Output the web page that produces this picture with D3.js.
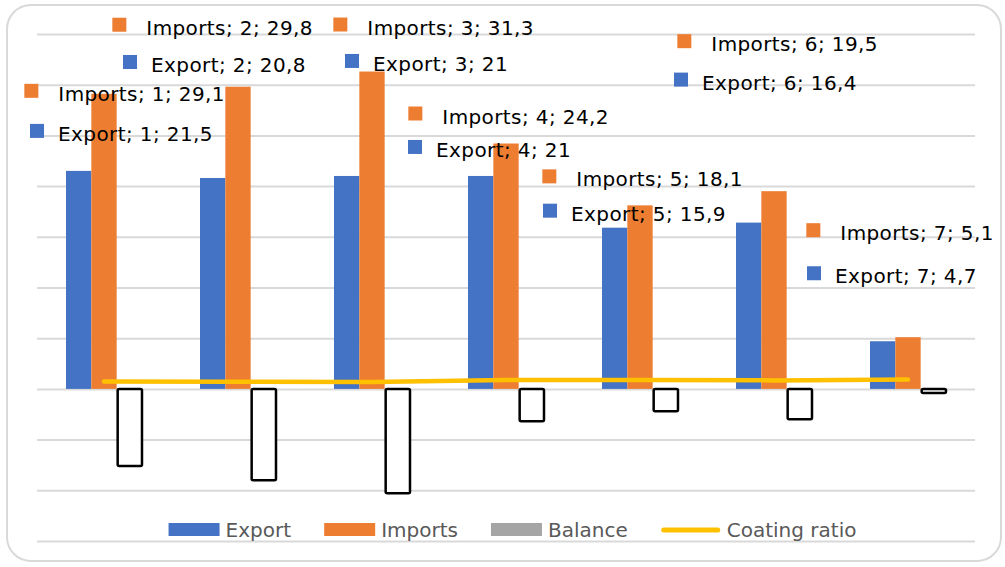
<!DOCTYPE html>
<html>
<head>
<meta charset="utf-8">
<script src="https://cdn.jsdelivr.net/npm/d3@7"></script>
<style>
  html, body { margin: 0; padding: 0; background: #fff; }
  svg { display: block; font-family: "DejaVu Sans", sans-serif; }
</style>
</head>
<body>
<svg id="chart" width="1005" height="567"></svg>
<script>
// values
const categories = ['1', '2', '3', '4', '5', '6', '7'];
const exportValues = [21.5, 20.8, 21, 21, 15.9, 16.4, 4.7];
const importValues = [29.1, 29.8, 31.3, 24.2, 18.1, 19.5, 5.1];
const balanceValues = [-7.6, -9.0, -10.3, -3.2, -2.2, -3.0, -0.4];
const coatingRatio = [0.74, 0.70, 0.67, 0.87, 0.88, 0.84, 0.92];
const gridTicks = [-15, -10, -5, 0, 5, 10, 15, 20, 25, 30, 35];
const seriesNames = ['Export', 'Imports', 'Balance'];
const legendNames = ['Export', 'Imports', 'Balance', 'Coating ratio'];

// hand-placed data labels, offset [dx, dy] from the top-left of their bar
const exportLabelOffset = [[-8, -30], [-49, -106], [39, -105], [-32, -19], [-31, -7], [-34, -133], [-35, -58]];
const importLabelOffset = [[-33, 7], [-79, -52], [8, -37], [-51, -20], [-51, -19], [-50, -140], [-55, -97]];

const colors = {
    Export: '#4472C4',
    Imports: '#ED7D31',
    Balance: '#A5A5A5',
    ratio: '#FFC000',
    grid: '#D9D9D9',
    legendText: '#595959'
};

function TradeChart(svg) {
    this.svg = svg;
    this.plot = { left: 37, right: 975, top: 34, bottom: 541 };
    this.x = d3.scaleBand()
        .domain(categories)
        .range([this.plot.left, this.plot.right])
        .paddingInner(0.433)
        .paddingOuter(0.2165);
    this.x1 = d3.scaleBand()
        .domain(seriesNames)
        .range([0, this.x.bandwidth()]);
    this.y = d3.scaleLinear()
        .domain([-15, 35])
        .range([this.plot.bottom, this.plot.top]);
}

TradeChart.prototype.draw = function () {
    this.drawFrame();
    this.drawGrid();
    this.drawBars();
    this.drawRatio();
    this.drawLabels();
    this.drawLegend();
};

TradeChart.prototype.drawFrame = function () {
    this.svg.append('rect')
        .attr('x', 7).attr('y', 5)
        .attr('width', 994).attr('height', 556)
        .attr('rx', 24)
        .attr('fill', '#fff')
        .attr('stroke', colors.grid)
        .attr('stroke-width', 2);
};

TradeChart.prototype.drawGrid = function () {
    var _this = this;
    var axis = d3.axisLeft(_this.y)
        .tickValues(gridTicks)
        .tickSize(-(_this.plot.right - _this.plot.left))
        .tickFormat('');
    var g = _this.svg.append('g')
        .attr('class', 'grid')
        .attr('transform', 'translate(' + _this.plot.left + ',0)')
        .call(axis);
    g.select('.domain').remove();
    g.selectAll('.tick line')
        .attr('stroke', colors.grid)
        .attr('stroke-width', 2);
};

TradeChart.prototype.drawBars = function () {
    var _this = this;
    var rows = categories.map(function (c, i) {
        return { cat: c, Export: exportValues[i], Imports: importValues[i], Balance: balanceValues[i] };
    });
    var groups = _this.svg.append('g').attr('class', 'bars')
        .selectAll('g')
        .data(rows)
        .enter()
        .append('g')
        .attr('transform', function (d) { return 'translate(' + _this.x(d.cat) + ',0)'; });

    groups.selectAll('rect')
        .data(function (d) { return seriesNames.map(function (s) { return { key: s, value: d[s] }; }); })
        .enter()
        .append('rect')
        .attr('x', function (d) { return _this.x1(d.key) + (d.key === 'Balance' ? 1 : 0); })
        .attr('y', function (d) { return _this.y(Math.max(0, d.value)); })
        .attr('width', function (d) { return _this.x1.bandwidth() - (d.key === 'Balance' ? 1 : 0); })
        .attr('height', function (d) { return Math.abs(_this.y(d.value) - _this.y(0)); })
        .attr('rx', function (d) { return d.key === 'Balance' ? 1.5 : 0; })
        .attr('fill', function (d) { return d.key === 'Balance' ? '#fff' : colors[d.key]; })
        .attr('stroke', function (d) { return d.key === 'Balance' ? '#000' : 'none'; })
        .attr('stroke-width', 2.5);
};

TradeChart.prototype.drawRatio = function () {
    var _this = this;
    var line = d3.line()
        .x(function (d, i) { return _this.x(categories[i]) + _this.x.bandwidth() / 2; })
        .y(function (d) { return _this.y(d); });
    _this.svg.append('path')
        .datum(coatingRatio)
        .attr('d', line)
        .attr('fill', 'none')
        .attr('stroke', colors.ratio)
        .attr('stroke-width', 4.5)
        .attr('stroke-linecap', 'round')
        .attr('stroke-linejoin', 'round');
};

TradeChart.prototype.drawLabels = function () {
    var _this = this;
    var labels = [];
    categories.forEach(function (c, i) {
        labels.push({ key: 'Imports', cat: c, value: importValues[i], off: importLabelOffset[i], gap: 20 });
        labels.push({ key: 'Export', cat: c, value: exportValues[i], off: exportLabelOffset[i], gap: 14 });
    });
    var lab = _this.svg.append('g').attr('class', 'labels')
        .selectAll('g')
        .data(labels)
        .enter()
        .append('g')
        .attr('transform', function (d) {
            var tx = _this.x(d.cat) + _this.x1(d.key) + d.off[0];
            var ty = _this.y(d.value) + d.off[1];
            return 'translate(' + tx + ',' + ty + ')';
        });
    lab.append('rect')
        .attr('x', function (d) { return -d.gap - 14; })
        .attr('y', -17)
        .attr('width', 14)
        .attr('height', 14)
        .attr('fill', function (d) { return colors[d.key]; });
    lab.append('text')
        .attr('font-size', 20)
        .attr('letter-spacing', 0.4)
        .attr('fill', '#000')
        .text(function (d) { return d.key + '; ' + d.cat + '; ' + String(d.value).replace('.', ','); });
};

TradeChart.prototype.drawLegend = function () {
    var _this = this;
    var legend = _this.svg.append('g').attr('class', 'legend');
    var items = legend.selectAll('g')
        .data(legendNames)
        .enter()
        .append('g');
    items.each(function (d) {
        var g = d3.select(this);
        if (d === 'Coating ratio') {
            g.append('line')
                .attr('x1', 3).attr('x2', 57)
                .attr('y1', 0).attr('y2', 0)
                .attr('stroke', colors.ratio)
                .attr('stroke-width', 5)
                .attr('stroke-linecap', 'round');
        } else {
            g.append('rect')
                .attr('x', 0).attr('y', -7)
                .attr('width', 51).attr('height', 13)
                .attr('fill', colors[d]);
        }
        g.append('text')
            .attr('x', d === 'Coating ratio' ? 66 : 57)
            .attr('y', 7)
            .attr('font-size', 20)
            .attr('fill', colors.legendText)
            .text(d);
    });
    // lay the items out one after another and centre the row
    var pos = 0;
    var widths = [];
    items.each(function () { widths.push(this.getBBox().width); });
    var total = d3.sum(widths) + 33 * (widths.length - 1);
    var start = 511 - total / 2;
    items.attr('transform', function (d, i) {
        var tx = start + pos;
        pos += widths[i] + 33;
        return 'translate(' + tx + ',530)';
    });
};

new TradeChart(d3.select('#chart')).draw();
</script>
</body>
</html>
